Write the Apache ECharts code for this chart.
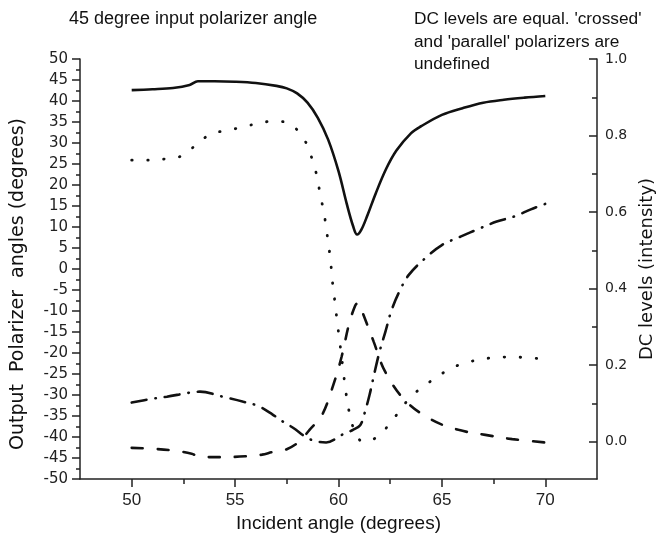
<!DOCTYPE html>
<html>
<head>
<meta charset="utf-8">
<script src="https://cdn.jsdelivr.net/npm/echarts@6.0.0/dist/echarts.min.js"></script>
<style>
  html, body { margin: 0; padding: 0; background: #fff; }
  #chart { width: 657px; height: 543px; }
</style>
</head>
<body>
<div id="chart"></div>
<script>
// values: [incident angle, output polarizer angle]
var solidCurve = [
  [50, 42.6], [51, 42.8], [52, 43.1], [52.8, 43.8], [53.2, 44.7], [54, 44.7], [55, 44.6],
  [56, 44.3], [57, 43.6], [57.5, 43.0], [58, 41.8], [58.5, 39.6], [59, 36.0], [59.5, 30.8],
  [60, 23.3], [60.4, 15.5], [60.7, 10.3], [60.9, 8.2], [61.1, 9.3], [61.4, 12.8], [61.8, 18.0],
  [62.3, 23.8], [62.8, 28.2], [63.5, 32.3], [64, 34.0], [65, 36.7], [66, 38.3], [67, 39.6],
  [68, 40.3], [69, 40.8], [70, 41.2]
];
var dottedCurve = [
  [50, 25.9], [50.8, 25.9], [51.6, 26.2], [52.4, 26.9], [53.1, 29.5], [53.8, 32.1], [54.5, 32.9],
  [55.4, 33.8], [56.1, 34.7], [56.9, 35.2], [57.7, 34.4], [58.38, 30.5], [58.73, 26.1],
  [58.96, 22.0], [59.12, 17.6], [59.3, 13.3], [59.43, 8.9], [59.55, 4.7], [59.64, 0.7],
  [59.72, -3.6], [59.83, -8.0], [59.93, -12.3], [60.04, -16.6], [60.2, -23.0], [60.36, -29.4],
  [60.5, -33.6], [60.72, -37.9], [61.0, -40.6], [61.27, -41.2], [61.7, -40.5], [62.1, -39.0],
  [62.8, -34.8], [63.5, -30.4], [64.35, -27.1], [65.1, -24.6], [65.9, -22.7], [66.7, -21.7],
  [67.5, -21.1], [68.3, -20.95], [69.1, -21.1], [70, -21.5]
];
var dashDotCurve = [
  [50, -31.8], [51, -30.9], [51.7, -30.4], [52.8, -29.45], [53.3, -29.2], [54.4, -30.4],
  [55.4, -31.6], [56.1, -32.6], [56.8, -34.6], [57.3, -36.3], [57.8, -37.8], [58.6, -40.5],
  [59.4, -41.3], [60.2, -39.4], [60.7, -38.3], [61.05, -37.2], [61.25, -34.5], [61.5, -30.0],
  [61.75, -24.5], [62.0, -19.4], [62.27, -14.9], [62.54, -10.2], [62.9, -5.8], [63.4, -1.4],
  [64.2, 2.6], [65.0, 5.7], [65.9, 7.7], [66.85, 9.7], [67.65, 11.3], [68.5, 12.5],
  [69.3, 14.2], [70, 15.5]
];
var dashedCurve = [
  [50, -42.6], [51, -42.8], [52, -43.2], [52.9, -44.0], [53.3, -44.7], [54.3, -44.8],
  [55.5, -44.6], [56.3, -44.2], [56.8, -43.6], [57.5, -42.9], [58.1, -41.1], [58.6, -38.3],
  [59.2, -34.8], [59.75, -27.6], [60.15, -20.9], [60.5, -13.3], [60.8, -8.8], [60.95, -8.0],
  [61.15, -10.2], [61.7, -17.3], [62.25, -24.4], [63.2, -31.2], [64.5, -35.9], [65.8, -38.3],
  [67.1, -39.5], [68.4, -40.5], [70, -41.3]
];

var xMajorTicks = [50, 55, 60, 65, 70];
var xMinorTicks = [52.5, 57.5, 62.5, 67.5];
var dcMajorTicks = [0, 0.2, 0.4, 0.6, 0.8, 1.0];
var dcMinorTicks = [0.1, 0.3, 0.5, 0.7, 0.9];

var ink = '#111';
var axisInk = '#222';

var myChart = echarts.init(document.getElementById('chart'), null, {renderer: 'canvas'});

var option = {
  animation: false,
  backgroundColor: '#fff',
  title: [
    {
      text: '45 degree input polarizer angle',
      left: 64, top: 3,
      textStyle: {fontFamily: 'Liberation Sans', fontSize: 18, fontWeight: 'normal', color: ink, lineHeight: 22}
    },
    {
      text: "DC levels are equal. 'crossed'\nand 'parallel' polarizers are\nundefined",
      left: 409, top: 3,
      textStyle: {fontFamily: 'Liberation Sans', fontSize: 17.3, fontWeight: 'normal', color: ink, lineHeight: 22.5}
    }
  ],
  grid: {left: 80, right: 60, top: 59, bottom: 64, containLabel: false, outerBoundsMode: 'none'},
  xAxis: [
    {
      type: 'value', min: 47.5, max: 72.5, position: 'bottom',
      name: 'Incident angle (degrees)', nameLocation: 'middle', nameGap: 35,
      nameTextStyle: {fontFamily: 'Liberation Sans', fontSize: 19, color: ink},
      axisLine: {show: true, onZero: false, lineStyle: {color: axisInk, width: 1.5}},
      axisTick: {show: true, inside: false, length: 8, customValues: xMajorTicks, lineStyle: {color: axisInk, width: 1.5}},
      axisLabel: {customValues: xMajorTicks, margin: 13, fontFamily: 'Liberation Sans', fontSize: 17, color: '#222'},
      splitLine: {show: false}
    },
    {
      // minor ticks only
      type: 'value', min: 47.5, max: 72.5, position: 'bottom',
      axisLine: {show: false, onZero: false},
      axisTick: {show: true, inside: false, length: 5, customValues: xMinorTicks, lineStyle: {color: axisInk, width: 1.5}},
      axisLabel: {show: false},
      splitLine: {show: false}
    }
  ],
  yAxis: [
    {
      type: 'value', min: -50, max: 50, interval: 5, position: 'left',
      name: 'Output  Polarizer  angles (degrees)', nameLocation: 'middle', nameGap: 52, nameRotate: 90,
      nameTextStyle: {fontFamily: 'DejaVu Sans', fontSize: 19, color: ink, padding: [0, 30, 0, 0]},
      axisLine: {show: true, onZero: false, lineStyle: {color: axisInk, width: 1.5}},
      axisTick: {show: true, inside: false, length: 8, lineStyle: {color: axisInk, width: 1.5}},
      minorTick: {show: true, splitNumber: 2, length: 4, lineStyle: {color: axisInk, width: 1.5}},
      axisLabel: {margin: 12, fontFamily: 'DejaVu Sans', fontSize: 15, color: '#222'},
      splitLine: {show: false}
    },
    {
      type: 'value', min: -0.0974, max: 1.0, position: 'right',
      name: 'DC levels (intensity)', nameLocation: 'middle', nameGap: 41, nameRotate: 90,
      nameTextStyle: {fontFamily: 'DejaVu Sans', fontSize: 18, color: ink},
      axisLine: {show: true, onZero: false, lineStyle: {color: axisInk, width: 1.5}},
      axisTick: {show: true, inside: true, length: 8, customValues: dcMajorTicks, lineStyle: {color: axisInk, width: 1.5}},
      axisLabel: {customValues: dcMajorTicks, margin: 8, fontFamily: 'DejaVu Sans', fontSize: 14, color: '#222',
        formatter: function (v) { return v.toFixed(1); }},
      splitLine: {show: false}
    },
    {
      // minor ticks only
      type: 'value', min: -0.0974, max: 1.0, position: 'right',
      axisLine: {show: false, onZero: false},
      axisTick: {show: true, inside: true, length: 5, customValues: dcMinorTicks, lineStyle: {color: axisInk, width: 1.5}},
      axisLabel: {show: false},
      splitLine: {show: false}
    }
  ],
  series: [
    {
      type: 'line', data: solidCurve, smooth: 0.35, symbol: 'none',
      lineStyle: {color: ink, width: 2.6, type: 'solid'}
    },
    {
      type: 'line', data: dottedCurve, smooth: 0.35, symbol: 'none',
      lineStyle: {color: ink, width: 2.8, type: [0.5, 15.5], cap: 'round'}
    },
    {
      type: 'line', data: dashDotCurve, smooth: 0.35, symbol: 'none',
      lineStyle: {color: ink, width: 2.6, type: [15, 9, 0.5, 9], cap: 'round'}
    },
    {
      type: 'line', data: dashedCurve, smooth: 0.35, symbol: 'none',
      lineStyle: {color: ink, width: 2.6, type: [11, 15], cap: 'round'}
    }
  ]
};

window.onresize = myChart.resize;
myChart.setOption(option);
</script>
</body>
</html>
